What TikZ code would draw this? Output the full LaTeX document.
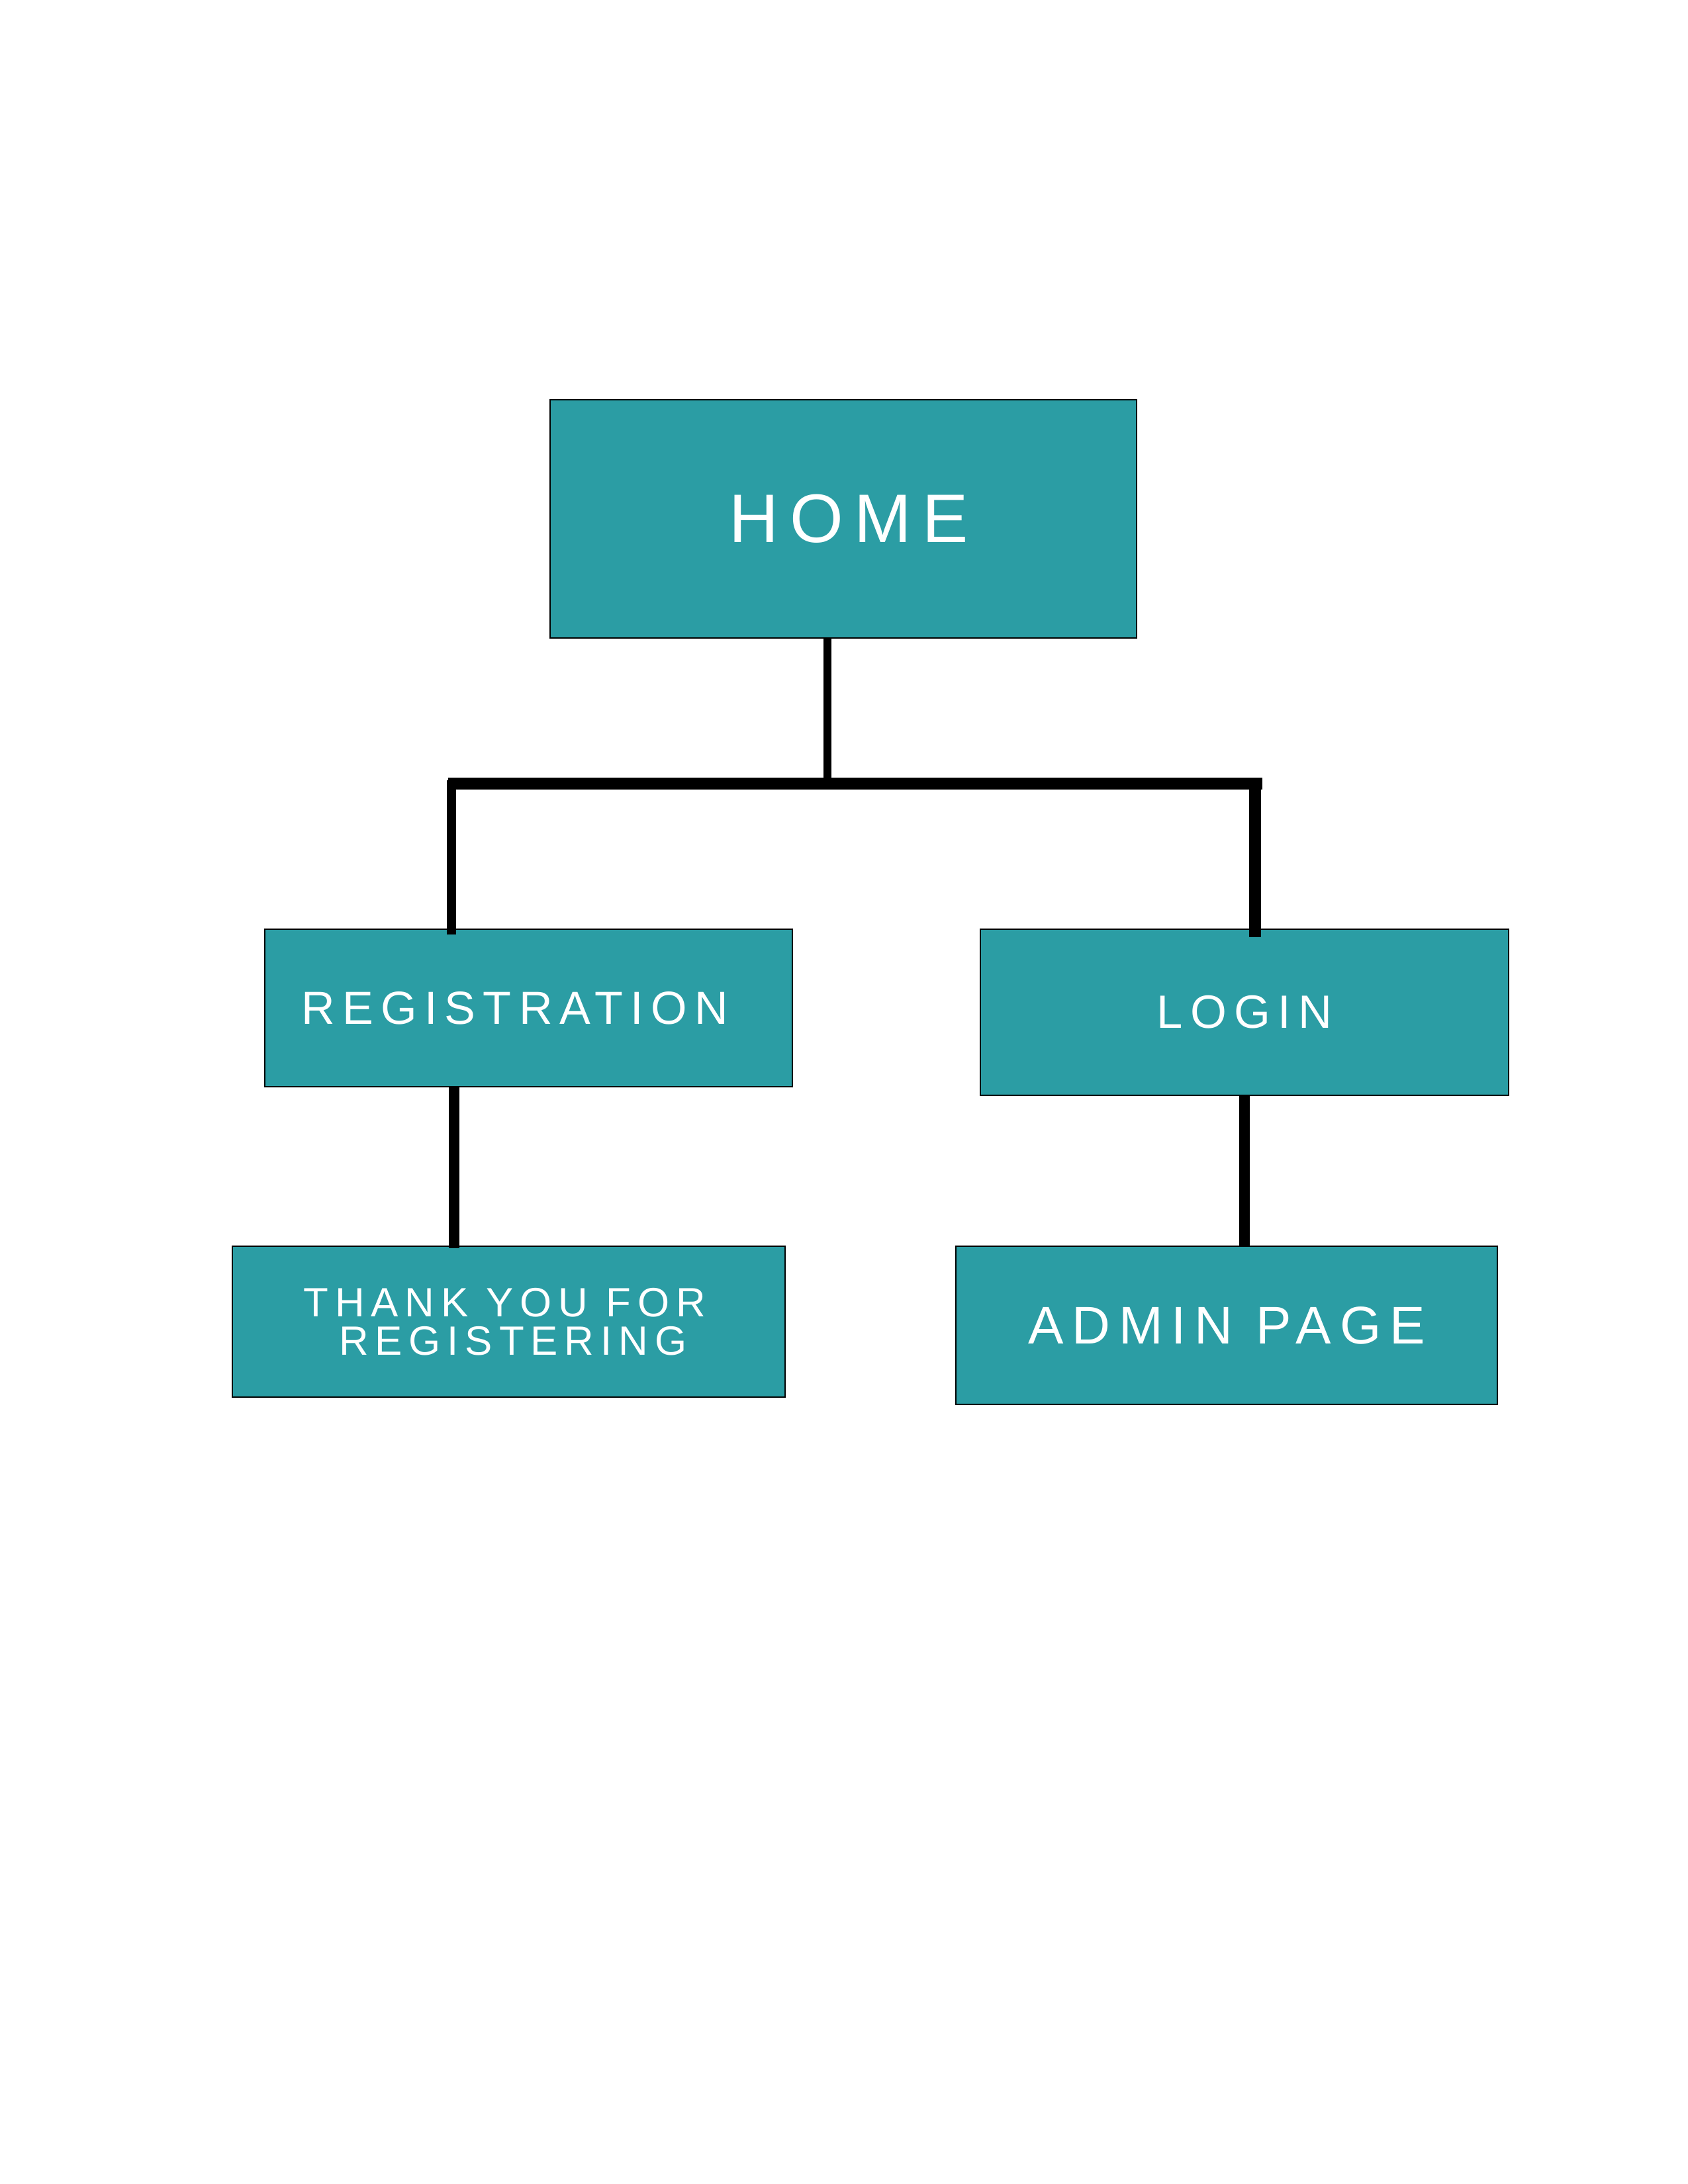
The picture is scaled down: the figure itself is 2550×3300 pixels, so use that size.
\documentclass[tikz,border=0pt]{standalone}
\usepackage{fontspec}
\newfontfamily\boxfont[LetterSpace=16]{Liberation Sans}
\definecolor{boxteal}{RGB}{43,157,164}
\begin{document}
\begin{tikzpicture}[x=0.2409pt,y=-0.2409pt]
\tikzstyle{every node}+=[inner sep=0pt]
\tikzstyle{page box}=[draw=black, line width=0.4pt, fill=boxteal, text=white, align=center]
\useasboundingbox (0,0) rectangle (2550,3300);
\node [page box, minimum width=213.4pt, minimum height=86.7pt, font=\boxfont\fontsize{25}{30}\selectfont] (home) at (1274,784) {\kern4pt HOME};
\node [page box, minimum width=192.0pt, minimum height=57.3pt, font=\boxfont\fontsize{16.9}{20}\selectfont] (reg) at (798.5,1523) {\kern-10pt REGISTRATION};
\node [page box, minimum width=192.2pt, minimum height=60.5pt, font=\boxfont\fontsize{17}{20}\selectfont] (login) at (1880,1529.5) {LOGIN};
\node [page box, minimum width=201.2pt, minimum height=54.9pt, font=\boxfont\fontsize{14.9}{14}\selectfont] (thanks) at (768.5,1997) {THANK YOU FOR\kern3pt\\\kern3pt REGISTERING};
\node [page box, minimum width=197.1pt, minimum height=57.6pt, font=\boxfont\fontsize{19.3}{22}\selectfont] (admin) at (1853,2002.5) {ADMIN PAGE};
\coordinate (hub) at (1250,1184);
\coordinate (barleft) at (677,1184);
\coordinate (barright) at (1907,1184);
\coordinate (regtop) at (682,1179);
\coordinate (logintop) at (1896,1184);
\coordinate (regdrop) at (686,1642);
\draw [black, line width=2.9pt] (hub |- home.south) -- (hub);
\draw [black, line width=4.2pt] (barleft) -- (barright);
\draw [black, line width=3.5pt] (regtop) -- ([yshift=-2pt]regtop |- reg.north);
\draw [black, line width=4.3pt] (logintop) -- ([yshift=-3pt]logintop |- login.north);
\draw [black, line width=4pt] (regdrop) -- ([yshift=-1pt]regdrop |- thanks.north);
\draw [black, line width=3.8pt] (login.south) -- (login.south |- admin.north);
\end{tikzpicture}
\end{document}
